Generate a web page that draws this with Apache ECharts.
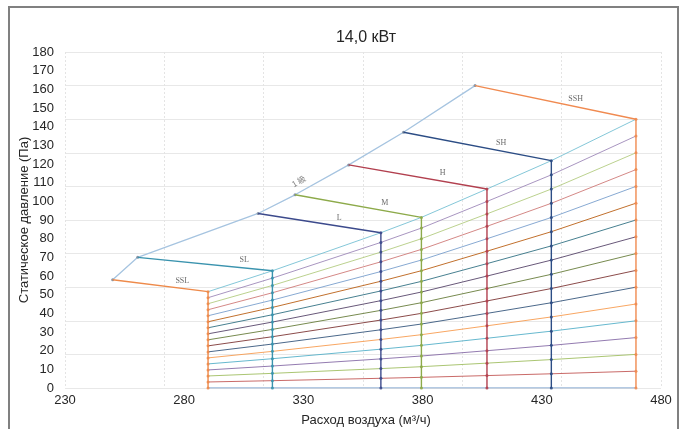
<!DOCTYPE html>
<html><head><meta charset="utf-8">
<script src="https://cdn.jsdelivr.net/npm/echarts@6/dist/echarts.min.js"></script>
<style>html,body{margin:0;padding:0;background:#fff}#c{width:688px;height:429px}</style>
</head><body><div id="c"></div>
<script>
// ---- data ----
const chartTitle = '14,0 кВт';
const xAxisName = 'Расход воздуха (м³/ч)';
const yAxisName = 'Статическое давление (Па)';
const xTickLabels = [230, 280, 330, 380, 430, 480];
const yTickLabels = [0, 10, 20, 30, 40, 50, 60, 70, 80, 90, 100, 110, 120, 130, 140, 150, 160, 170, 180];
const speeds = ['SSL', 'SL', 'L', 'M', 'H', 'SH', 'SSH'];
const airflowStart = [250, 260.5, 311, 326.5, 349, 372, 402];
const pressureStart = [58, 70, 93.5, 103.5, 119.5, 137, 162];
const airflowMax = [290, 317, 362.5, 379.5, 407, 434, 469.5];
const pressureMax = [51.6, 62.8, 83.2, 91.4, 106.6, 121.8, 144];
// static-pressure steps read on the SSH column
const stepLevels = [0, 9, 18, 27, 36, 45, 54, 63, 72, 81, 90, 99, 108, 117, 126, 135, 144];
const gradeLabel = '1 級';

// ---- style ----
const stepColors = ['#4F81BD','#C0504D','#9BBB59','#8064A2','#4BACC6','#F79646',
  '#2C4D75','#772C2A','#5F7530','#4D3B62','#276A7C','#B65708',
  '#729ACA','#CD7371','#AFC97A','#9983B5','#6FBDD1'];
const speedColors = ['#EE8A4A','#3A93AE','#3C4A8C','#8DAA4A','#B2404F','#2C4D85','#F08A50'];
const labelT = [0.73, 0.79, 0.66, 0.71, 0.68, 0.66, 0.625];
const envColor = '#A6C4E0';

const pTop = pressureMax[pressureMax.length - 1];
const series = [];
stepLevels.forEach((lv, k) => {
  series.push({
    type: 'line', symbol: 'none', silent: true, z: 2,
    lineStyle: { color: stepColors[k % stepColors.length], width: 1, opacity: 0.85 },
    data: speeds.map((s, i) => [airflowMax[i], lv * pressureMax[i] / pTop])
  });
});
speeds.forEach((s, i) => {
  series.push({
    type: 'line', symbol: 'none', silent: true, z: 4,
    lineStyle: { color: speedColors[i], width: 1.4 },
    data: [[airflowStart[i], pressureStart[i]], [airflowMax[i], pressureMax[i]], [airflowMax[i], 0]]
  });
  series.push({
    type: 'scatter', symbol: 'circle', symbolSize: 3, silent: true, z: 5,
    itemStyle: { color: speedColors[i], opacity: 0.9 },
    data: stepLevels.map(lv => [airflowMax[i], lv * pressureMax[i] / pTop])
  });
});
series.push({
  type: 'line', symbol: 'circle', symbolSize: 3, silent: true, z: 3,
  itemStyle: { color: '#8896A8' },
  lineStyle: { color: envColor, width: 1.3 },
  data: speeds.map((s, i) => [airflowStart[i], pressureStart[i]])
});
series.push({
  type: 'scatter', symbolSize: 0, silent: true, z: 6,
  label: { show: true, position: 'inside', offset: [0, -8], formatter: p => p.data.name,
    fontSize: 8, color: '#444', fontFamily: 'Liberation Serif' },
  data: speeds.map((s, i) => {
    const t = labelT[i];
    return { name: s, value: [airflowStart[i] + t * (airflowMax[i] - airflowStart[i]),
      pressureStart[i] + t * (pressureMax[i] - pressureStart[i])] };
  })
});
// grade label along the envelope, between M and H start points
(function () {
  const t = 0.13;
  series.push({
    type: 'scatter', symbolSize: 0, silent: true, z: 6,
    label: { show: true, position: 'inside', offset: [2, -10], rotate: 30, formatter: gradeLabel,
      fontSize: 8, color: '#666', fontFamily: 'Noto Sans CJK JP' },
    data: [[airflowStart[3] + t * (airflowStart[4] - airflowStart[3]),
            pressureStart[3] + t * (pressureStart[4] - pressureStart[3])]]
  });
})();

const chart = echarts.init(document.getElementById('c'), null, { renderer: 'canvas' });
chart.setOption({
  animation: false,
  backgroundColor: '#fff',
  grid: { left: 65, right: 27, top: 52, bottom: 41 },
  xAxis: [
    { type: 'value', min: xTickLabels[0], max: xTickLabels[xTickLabels.length - 1], interval: 50,
      axisLine: { show: false }, axisTick: { show: false }, splitLine: { show: false },
      axisLabel: { fontSize: 13, color: '#262626', margin: 6, fontFamily: 'Liberation Sans' } },
    { type: 'value', min: 0, max: 6, interval: 1, position: 'top',
      axisLine: { show: false }, axisTick: { show: false }, axisLabel: { show: false },
      splitLine: { show: true, lineStyle: { color: '#E4E4E4', type: [2, 2] } } }
  ],
  yAxis: [
    { type: 'value', min: yTickLabels[0], max: yTickLabels[yTickLabels.length - 1], interval: 10,
      axisLine: { show: false }, axisTick: { show: false }, splitLine: { show: false },
      axisLabel: { fontSize: 13, color: '#262626', margin: 11, fontFamily: 'Liberation Sans' } },
    { type: 'value', min: 0, max: 10, interval: 1, position: 'right',
      axisLine: { show: false }, axisTick: { show: false }, axisLabel: { show: false },
      splitLine: { show: true, lineStyle: { color: '#E8E8E8' } } }
  ],
  graphic: [
    { type: 'rect', shape: { x: 9, y: 7, width: 669, height: 440 },
      style: { fill: 'none', stroke: '#808080', lineWidth: 2 }, z: 100 },
    { type: 'text', x: 366, y: 38,
      style: { text: chartTitle, font: '16px "Liberation Sans"', fill: '#262626',
        textAlign: 'center', textVerticalAlign: 'middle' } },
    { type: 'text', x: 366, y: 420,
      style: { text: xAxisName, font: '13px "Liberation Sans"', fill: '#262626',
        textAlign: 'center', textVerticalAlign: 'middle' } },
    { type: 'text', x: 24, y: 220, rotation: Math.PI / 2,
      style: { text: yAxisName, font: '13px "Liberation Sans"', fill: '#262626',
        textAlign: 'center', textVerticalAlign: 'middle' } }
  ],
  series: series
});
</script>
</body></html>
